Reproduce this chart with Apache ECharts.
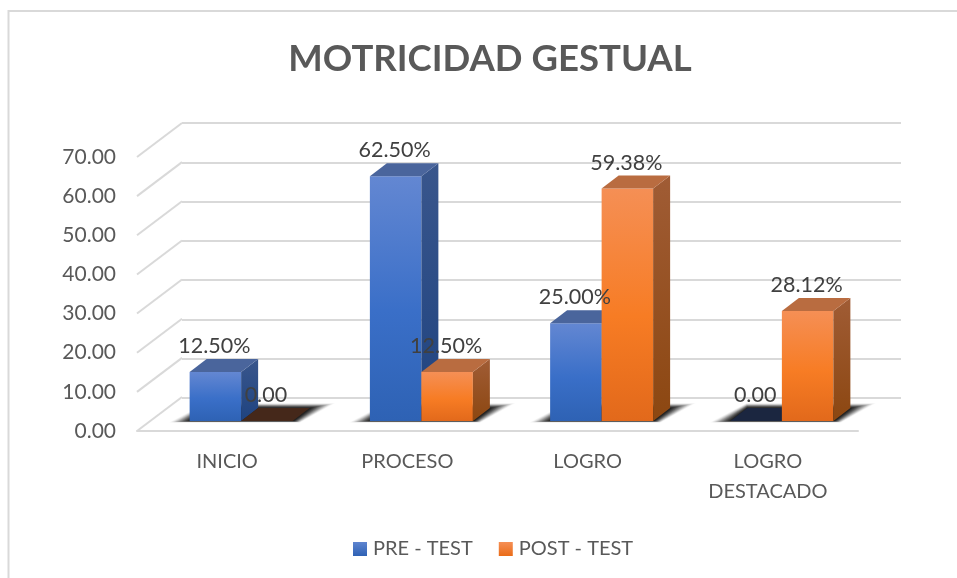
<!DOCTYPE html>
<html>
<head>
<meta charset="utf-8">
<style>html,body{margin:0;padding:0;background:#fff}#c{width:957px;height:578px}</style>
<script src="https://cdn.jsdelivr.net/npm/echarts@6/dist/echarts.min.js"></script>
</head>
<body>
<div id="c"></div>
<script>
const categories = ['INICIO', 'PROCESO', 'LOGRO', 'LOGRO\nDESTACADO'];
const preTest = [12.5, 62.5, 25, 0];
const postTest = [0, 12.5, 59.38, 28.12];
const yTicks = [0, 10, 20, 30, 40, 50, 60, 70];

const FONT = 'Lato, "Open Sans", sans-serif';
const TXT = '#595959';
const GRID = '#d9d9d9';
const DEPTH_X = 45, DEPTH_Y = 34;     // floor depth
const BAR_DX = 14, BAR_DY = 10;       // bars stand inside the floor
const SIDE_X = 17, SIDE_Y = 13;       // bar depth
const BAR_W = 51.5;

function grad(stops) {
  return { type: 'linear', x: 0, y: 0, x2: 0, y2: 1,
    colorStops: stops.map(s => ({ offset: s[0], color: s[1] })) };
}
const palette = {
  pre: {
    front: grad([[0, '#6387d2'], [0.55, '#3a6fc8'], [1, '#2e62b4']]),
    side: grad([[0, '#39568c'], [1, '#1f4380']]),
    top: '#4a659c', zero: '#1b2640', legend: grad([[0, '#5f85d0'], [1, '#2e62b4']])
  },
  post: {
    front: grad([[0, '#f58f55'], [0.55, '#f77c24'], [1, '#e2691b']]),
    side: grad([[0, '#a05c35'], [1, '#8c4711']]),
    top: '#b96c40', zero: '#45281a', legend: grad([[0, '#f58f55'], [1, '#ea6c18']])
  }
};

// soft floor shadow: stacked translucent outlines from the outer rim to the footprint
const SHADOW_OUTER = [[-21, 1.5], [111, 1.5], [146, -18], [16, -18]];
const SHADOW_INNER = [[0, 0], [104, 0], [121, -13], [17, -13]];
const SHADOW_STEPS = 22;
function shadowLayers(sx, yb) {
  const out = [];
  for (let s = 0; s < SHADOW_STEPS; s++) {
    const t = s / (SHADOW_STEPS - 1);
    out.push({
      type: 'polygon', z2: 1 + s * 0.01, silent: true,
      shape: { points: SHADOW_OUTER.map((p, i) => [
        sx + p[0] + (SHADOW_INNER[i][0] - p[0]) * t,
        yb + p[1] + (SHADOW_INNER[i][1] - p[1]) * t]) },
      style: { fill: 'rgba(0,0,0,' + (0.015 + 0.14 * t).toFixed(3) + ')' }
    });
  }
  return out;
}

function barRender(kind) {
  const pal = palette[kind];
  const startOff = kind === 'pre' ? -BAR_W : 0;
  return function (params, api) {
    const idx = api.value(0), val = api.value(1);
    const c = api.coord([idx, val]), c0 = api.coord([idx, 0]);
    const x0 = c0[0] + BAR_DX + startOff, x1 = x0 + BAR_W;
    const yb = c0[1] - BAR_DY, yt = c[1] - BAR_DY;
    const z = kind === 'pre' ? 5 : 10;
    const children = kind === 'pre' ? shadowLayers(x0, yb) : [];
    if (val > 0) {
      children.push({ type: 'polygon', z2: z, shape: { points: [[x0, yb], [x1, yb], [x1, yt], [x0, yt]] }, style: { fill: pal.front } });
      children.push({ type: 'polygon', z2: z, shape: { points: [[x1, yb], [x1 + SIDE_X, yb - SIDE_Y], [x1 + SIDE_X, yt - SIDE_Y], [x1, yt]] }, style: { fill: pal.side } });
    }
    children.push({ type: 'polygon', z2: z, shape: { points: [[x0, yt], [x1, yt], [x1 + SIDE_X, yt - SIDE_Y], [x0 + SIDE_X, yt - SIDE_Y]] }, style: { fill: val > 0 ? pal.top : pal.zero } });
    children.push({
      type: 'text', z2: 100,
      style: {
        text: val > 0 ? val.toFixed(2) + '%' : '0.00',
        x: (x0 + x1) / 2 - 1, y: yt - 26,
        textAlign: 'center', textVerticalAlign: 'middle',
        font: '21.5px ' + FONT, fill: '#404040'
      }
    });
    return { type: 'group', children };
  };
}

const chart = echarts.init(document.getElementById('c'), null, { renderer: 'canvas' });
chart.setOption({
  animation: false,
  backgroundColor: '#fff',
  title: {
    text: 'MOTRICIDAD GESTUAL', left: 485, top: 36, textAlign: 'center',
    textStyle: { fontFamily: FONT, fontSize: 36.5, fontWeight: 'bold', color: TXT }
  },
  graphic: [{
    type: 'polyline', silent: true, z: -1,
    shape: { points: [[8.5, 578], [8.5, 11], [957, 11]] },
    style: { stroke: GRID, lineWidth: 2, fill: null }
  }],
  legend: {
    left: 348, top: 534, itemWidth: 14, itemHeight: 14, itemGap: 26,
    textStyle: { fontFamily: FONT, fontSize: 20, color: TXT, padding: [0, 0, 0, 1] },
    data: [{ name: 'PRE - TEST', icon: 'rect' }, { name: 'POST - TEST', icon: 'rect' }]
  },
  grid: [
    { left: 137, right: 99, top: 157, bottom: 147 },
    { left: 182, right: 56, top: 123, bottom: 180 }
  ],
  xAxis: [
    { type: 'category', gridIndex: 0, data: categories,
      axisTick: { show: false },
      axisLine: { lineStyle: { color: GRID, width: 2 } },
      axisLabel: { fontFamily: FONT, fontSize: 20, color: TXT, margin: 16, lineHeight: 30, interval: 0 } },
    { type: 'category', gridIndex: 1, data: categories, show: false }
  ],
  yAxis: [
    { type: 'value', gridIndex: 0, min: 0, max: 70, interval: 10,
      axisLine: { show: false }, axisTick: { show: false }, splitLine: { show: false },
      axisLabel: { fontFamily: FONT, fontSize: 21, color: TXT, margin: 21, formatter: v => v.toFixed(2) } },
    { type: 'value', gridIndex: 1, min: 0, max: 70, interval: 10,
      axisLine: { show: false }, axisTick: { show: false }, axisLabel: { show: false },
      splitLine: { show: true, lineStyle: { color: GRID, width: 2 } } }
  ],
  series: [
    {
      name: 'wall', type: 'custom', xAxisIndex: 0, yAxisIndex: 0, silent: true, z: 1,
      data: yTicks.map(v => [0, v]),
      renderItem(params, api) {
        const c = api.coord([0, api.value(1)]);
        const x = c[0] - api.size([1, 0])[0] / 2;
        return { type: 'line', shape: { x1: x, y1: c[1], x2: x + DEPTH_X, y2: c[1] - DEPTH_Y },
          style: { stroke: GRID, lineWidth: 2 } };
      }
    },
    {
      name: 'PRE - TEST', type: 'custom', xAxisIndex: 0, yAxisIndex: 0, z: 2,
      itemStyle: { color: palette.pre.legend },
      data: preTest.map((v, i) => [i, v]),
      encode: { x: 0, y: 1 }, clip: false,
      renderItem: barRender('pre')
    },
    {
      name: 'POST - TEST', type: 'custom', xAxisIndex: 0, yAxisIndex: 0, z: 2,
      itemStyle: { color: palette.post.legend },
      data: postTest.map((v, i) => [i, v]),
      encode: { x: 0, y: 1 }, clip: false,
      renderItem: barRender('post')
    }
  ]
});
</script>
</body>
</html>
